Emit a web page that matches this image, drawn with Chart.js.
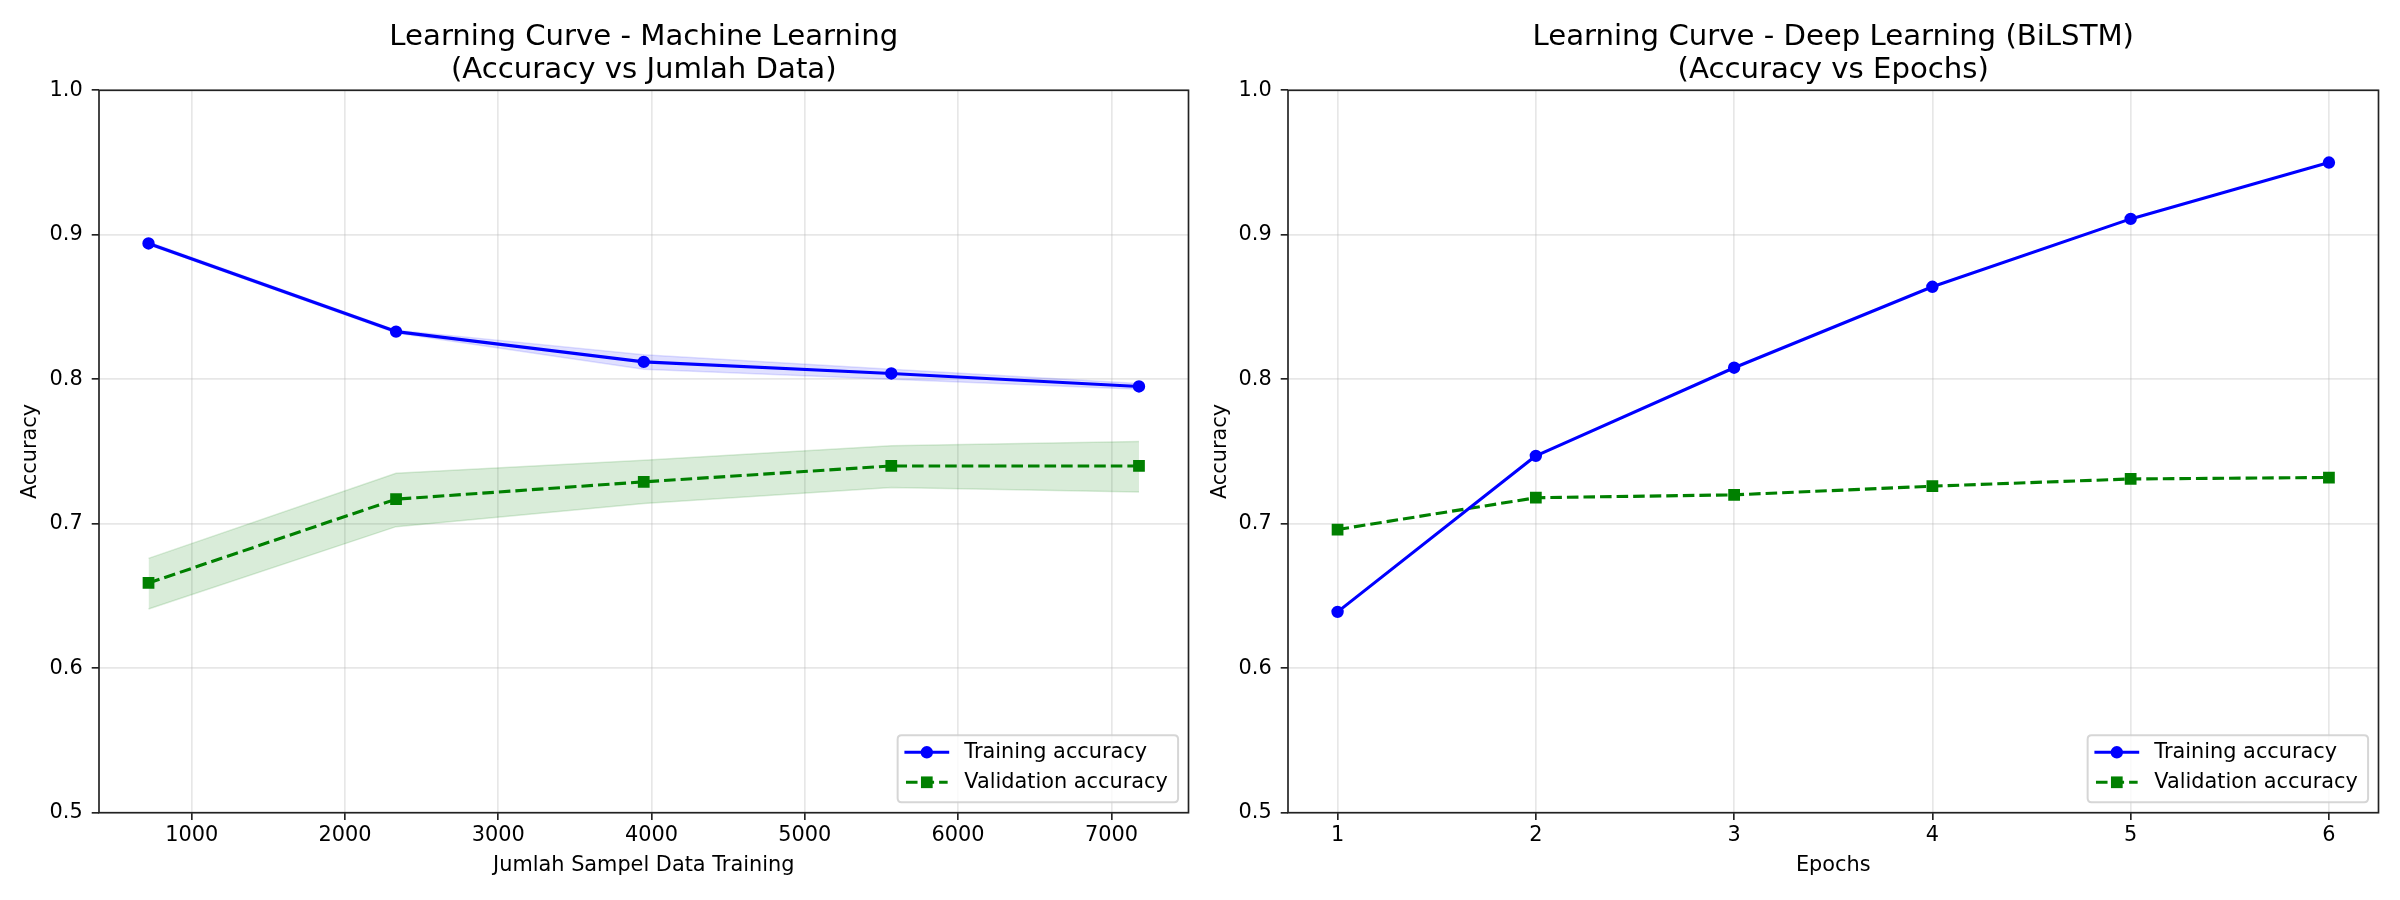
<!DOCTYPE html>
<html>
<head>
<meta charset="utf-8">
<script src="https://cdn.jsdelivr.net/npm/chart.js@4/dist/chart.umd.min.js"></script>
<style>
  html, body { margin: 0; padding: 0; background: #ffffff; }
  #wrap { position: relative; width: 2400px; height: 900px; background: #ffffff; }
  .pane { position: absolute; top: 0; width: 1200px; height: 900px; }
</style>
</head>
<body>
<div id="wrap">
  <div class="pane" style="left:0px"><canvas id="c1" width="1200" height="900"></canvas></div>
  <div class="pane" style="left:1200px"><canvas id="c2" width="1200" height="900"></canvas></div>
</div>
<script>
// ---------------- data ----------------
const mlTrainSizes = [718, 2333, 3949, 5564, 7180];
const mlTrainAcc   = [0.894, 0.833, 0.812, 0.804, 0.795];
const mlTrainUpper = [0.895, 0.834, 0.817, 0.807, 0.797];
const mlTrainLower = [0.893, 0.832, 0.807, 0.800, 0.793];
const mlValAcc     = [0.659, 0.717, 0.729, 0.740, 0.740];
const mlValUpper   = [0.676, 0.735, 0.744, 0.754, 0.757];
const mlValLower   = [0.641, 0.698, 0.714, 0.725, 0.722];

const epochs     = [1, 2, 3, 4, 5, 6];
const dlTrainAcc = [0.639, 0.747, 0.808, 0.864, 0.911, 0.950];
const dlValAcc   = [0.696, 0.718, 0.720, 0.726, 0.731, 0.732];

const mlXTicks    = [1000, 2000, 3000, 4000, 5000, 6000, 7000];
const epochXTicks = [1, 2, 3, 4, 5, 6];
const yTicks      = [0.5, 0.6, 0.7, 0.8, 0.9, 1.0];

const titlesML = ['Learning Curve - Machine Learning', '(Accuracy vs Jumlah Data)'];
const titlesDL = ['Learning Curve - Deep Learning (BiLSTM)', '(Accuracy vs Epochs)'];
const xLabelML = 'Jumlah Sampel Data Training';
const xLabelDL = 'Epochs';
const yLabel = 'Accuracy';
const trainLabel = 'Training accuracy';
const valLabel = 'Validation accuracy';

// ---------------- style ----------------
const FONT = 'DejaVu Sans';
const PX = 150 / 72;
const FS = 10 * PX;          // 20.83
const TITLE_FS = 14 * PX;    // 29.2
const LW = 1.5 * PX;         // line width
const DASH = [3.7 * LW, 1.6 * LW];
const BLUE = '#0000ff', GREEN = '#008000';
const BLUE_BAND = 'rgba(0,0,255,0.12)', GREEN_BAND = 'rgba(0,128,0,0.15)';
const GRID = 'rgba(176,176,176,0.3)';
const SPINE = '#222222';
const TICKLEN = 3.5 * PX;

Chart.defaults.font.family = FONT;
Chart.defaults.font.size = FS;
Chart.defaults.color = '#000000';

function pts(xs, ys) { return xs.map((x, i) => ({ x: x, y: ys[i] })); }

function lineDs(label, xs, ys, color, dashed) {
  return {
    label: label,
    data: pts(xs, ys),
    borderColor: color,
    backgroundColor: color,
    borderWidth: LW,
    borderDash: dashed ? DASH : [],
    borderJoinStyle: 'round',
    pointStyle: dashed ? 'rect' : 'circle',
    pointRadius: dashed ? 6.9 : 5.2,
    pointBorderWidth: 2,
    pointBorderColor: color,
    pointBackgroundColor: color,
    tension: 0,
    fill: false,
    isMain: true,
    dashed: dashed
  };
}
function bandDs(xs, ys, color, fillTo) {
  return {
    label: '',
    data: pts(xs, ys),
    borderColor: color,
    backgroundColor: color,
    borderWidth: 1.5,
    pointRadius: 0,
    tension: 0,
    fill: fillTo,
    isMain: false
  };
}

// frame + title + legend plugin
const decor = {
  id: 'decor',
  afterDatasetsDraw(chart) {
    const ca = chart.chartArea, ctx = chart.ctx;
    ctx.save();
    ctx.strokeStyle = SPINE;
    ctx.lineWidth = 0.8 * PX;
    ctx.strokeRect(ca.left, ca.top, ca.right - ca.left, ca.bottom - ca.top);
    ctx.restore();
  },
  afterDraw(chart, args, opts) {
    const ca = chart.chartArea, ctx = chart.ctx;
    // title
    ctx.save();
    ctx.fillStyle = '#000';
    ctx.font = TITLE_FS + 'px "' + FONT + '"';
    ctx.textAlign = 'center';
    ctx.textBaseline = 'alphabetic';
    const cx = (ca.left + ca.right) / 2;
    ctx.fillText(opts.title[0], cx, 45);
    ctx.fillText(opts.title[1], cx, 78);
    ctx.restore();

    // legend (lower right)
    const mains = chart.data.datasets.filter(d => d.isMain);
    ctx.save();
    ctx.font = FS + 'px "' + FONT + '"';
    let tw = 0;
    mains.forEach(d => { tw = Math.max(tw, ctx.measureText(d.label).width); });
    const pad = 0.4 * FS, hl = 2.0 * FS, htp = 0.8 * FS;
    const boxW = pad * 2 + hl + htp + tw + 2;
    const boxH = 67;
    const bx = ca.right - 0.5 * FS - boxW;
    const by = ca.bottom - 0.5 * FS - boxH;
    // frame
    const r = 4;
    ctx.beginPath();
    ctx.moveTo(bx + r, by);
    ctx.lineTo(bx + boxW - r, by);
    ctx.quadraticCurveTo(bx + boxW, by, bx + boxW, by + r);
    ctx.lineTo(bx + boxW, by + boxH - r);
    ctx.quadraticCurveTo(bx + boxW, by + boxH, bx + boxW - r, by + boxH);
    ctx.lineTo(bx + r, by + boxH);
    ctx.quadraticCurveTo(bx, by + boxH, bx, by + boxH - r);
    ctx.lineTo(bx, by + r);
    ctx.quadraticCurveTo(bx, by, bx + r, by);
    ctx.closePath();
    ctx.fillStyle = 'rgba(255,255,255,0.8)';
    ctx.fill();
    ctx.strokeStyle = 'rgba(204,204,204,0.8)';
    ctx.lineWidth = 2;
    ctx.stroke();
    // rows
    mains.forEach((d, i) => {
      const yc = by + 17 + i * 30;
      const x0 = bx + pad, x1 = x0 + hl;
      ctx.save();
      ctx.strokeStyle = d.borderColor;
      ctx.lineWidth = LW;
      if (d.dashed) { ctx.setLineDash(DASH); ctx.lineCap = 'butt'; }
      else { ctx.lineCap = 'square'; }
      ctx.beginPath();
      ctx.moveTo(x0, yc);
      ctx.lineTo(x1, yc);
      ctx.stroke();
      ctx.restore();
      ctx.fillStyle = d.borderColor;
      const mx = (x0 + x1) / 2;
      if (d.dashed) {
        const s = 5.85;
        ctx.fillRect(mx - s, yc - s, 2 * s, 2 * s);
      } else {
        ctx.beginPath();
        ctx.arc(mx, yc, 6.2, 0, Math.PI * 2);
        ctx.fill();
      }
      ctx.fillStyle = '#000';
      ctx.textAlign = 'left';
      ctx.textBaseline = 'middle';
      ctx.fillText(d.label, x1 + htp, yc);
    });
    ctx.restore();
  }
};

function makeChart(canvasId, cfg) {
  const xs = cfg.xs;
  const xMin = Math.min(...xs), xMax = Math.max(...xs);
  const m = 0.05 * (xMax - xMin);
  return new Chart(document.getElementById(canvasId), {
    type: 'line',
    data: { datasets: cfg.datasets },
    plugins: [decor],
    options: {
      responsive: false,
      devicePixelRatio: 1,
      animation: false,
      events: [],
      layout: { padding: { top: 90.3, right: cfg.rightPad, bottom: 0, left: 0 } },
      plugins: {
        legend: { display: false },
        title: { display: false },
        tooltip: { enabled: false },
        filler: { drawTime: 'beforeDatasetsDraw' },
        decor: { title: cfg.title }
      },
      scales: {
        x: {
          type: 'linear',
          min: xMin - m,
          max: xMax + m,
          afterBuildTicks: (s) => { s.ticks = cfg.xTicks.map(v => ({ value: v })); },
          afterFit: (s) => { s.height = 87.3; },
          ticks: {
            padding: 3.5,
            maxRotation: 0,
            autoSkip: false,
            color: '#000',
            font: { size: FS, family: FONT },
            callback: (v) => String(v)
          },
          grid: {
            color: GRID,
            lineWidth: 0.8 * PX,
            tickColor: SPINE,
            tickLength: TICKLEN,
            tickWidth: 0.8 * PX
          },
          border: { display: false },
          title: {
            display: true,
            text: cfg.xLabel,
            color: '#000',
            font: { size: FS, family: FONT },
            padding: { top: 0, bottom: 21.5 }
          }
        },
        y: {
          type: 'linear',
          min: 0.5,
          max: 1.0,
          afterBuildTicks: (s) => { s.ticks = yTicks.map(v => ({ value: v })); },
          afterFit: (s) => { s.width = cfg.yWidth; },
          ticks: {
            padding: 9,
            color: '#000',
            font: { size: FS, family: FONT },
            callback: (v) => Number(v).toFixed(1)
          },
          grid: {
            color: GRID,
            lineWidth: 0.8 * PX,
            tickColor: SPINE,
            tickLength: TICKLEN,
            tickWidth: 0.8 * PX
          },
          border: { display: false },
          title: {
            display: true,
            text: yLabel,
            color: '#000',
            font: { size: FS, family: FONT },
            padding: { top: cfg.yTitlePad, bottom: 0 }
          }
        }
      }
    }
  });
}

makeChart('c1', {
  xs: mlTrainSizes,
  xTicks: mlXTicks,
  xLabel: xLabelML,
  title: titlesML,
  rightPad: 11.5,
  yWidth: 99,
  yTitlePad: 18.5,
  datasets: [
    lineDs(trainLabel, mlTrainSizes, mlTrainAcc, BLUE, false),
    lineDs(valLabel, mlTrainSizes, mlValAcc, GREEN, true),
    bandDs(mlTrainSizes, mlTrainUpper, BLUE_BAND, '+1'),
    bandDs(mlTrainSizes, mlTrainLower, BLUE_BAND, false),
    bandDs(mlTrainSizes, mlValUpper, GREEN_BAND, '+1'),
    bandDs(mlTrainSizes, mlValLower, GREEN_BAND, false)
  ]
});

makeChart('c2', {
  xs: epochs,
  xTicks: epochXTicks,
  xLabel: xLabelDL,
  title: titlesDL,
  rightPad: 21.5,
  yWidth: 88,
  yTitlePad: 8.5,
  datasets: [
    lineDs(trainLabel, epochs, dlTrainAcc, BLUE, false),
    lineDs(valLabel, epochs, dlValAcc, GREEN, true)
  ]
});
</script>
</body>
</html>
